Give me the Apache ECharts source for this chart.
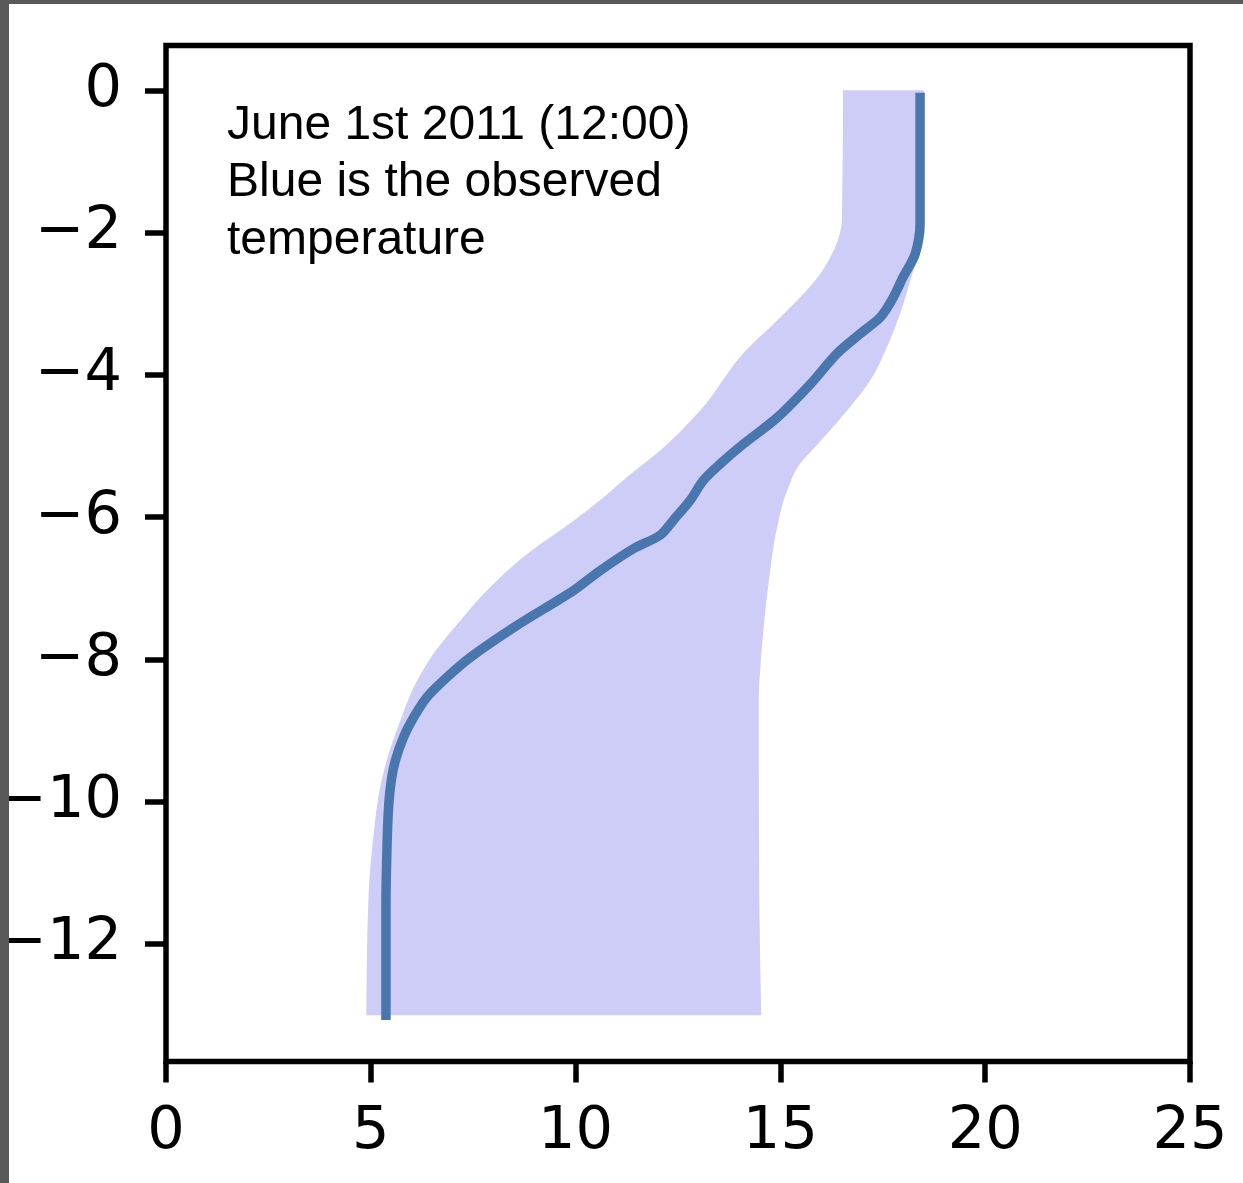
<!DOCTYPE html>
<html><head><meta charset="utf-8">
<script src="https://cdn.jsdelivr.net/npm/echarts@6/dist/echarts.min.js"></script>
<style>html,body{margin:0;padding:0;background:#fff}#c{width:1243px;height:1183px}</style>
</head><body><div id="c"></div><script>
// Observed temperature profile (depth, temperature)
const obsDepth = [-0.1, -1.27, -1.87, -2.30, -2.62, -2.95, -3.19, -3.42, -3.70, -4.13, -4.60, -4.97, -5.25, -5.48, -5.76, -6.04, -6.25, -6.44, -6.75, -7.03, -7.55, -7.97, -8.25, -8.53, -8.81, -9.09, -9.42, -9.70, -10.03, -10.54, -11.5, -13.0];
const obsTemp  = [18.41, 18.41, 18.41, 18.29, 18.0, 17.72, 17.44, 16.95, 16.38, 15.73, 14.92, 14.10, 13.53, 13.12, 12.80, 12.39, 12.07, 11.42, 10.60, 9.95, 8.49, 7.43, 6.86, 6.37, 6.05, 5.80, 5.60, 5.50, 5.44, 5.40, 5.37, 5.37];
// Envelope: lower (left) edge
const bandLoDepth = [0, -1.83, -2.25, -2.58, -3.19, -3.66, -4.5, -5.06, -5.44, -5.76, -6.05, -6.52, -7.13, -7.45, -7.92, -8.39, -8.86, -9.32, -9.79, -10.45, -11.39, -13.0];
const bandLoTemp  = [16.53, 16.5, 16.3, 15.97, 15.0, 14.15, 13.04, 12.07, 11.25, 10.6, 9.95, 8.81, 7.67, 7.19, 6.53, 6.05, 5.72, 5.44, 5.23, 5.07, 4.94, 4.89];
// Envelope: upper (right) edge
const bandHiDepth = [0, -1.73, -2.2, -2.62, -3.14, -3.61, -4.08, -4.45, -4.98, -5.25, -5.63, -6.14, -6.89, -7.5, -8.11, -8.58, -10.9, -13.0];
const bandHiTemp  = [18.5, 18.49, 18.41, 18.2, 17.92, 17.6, 17.19, 16.7, 15.9, 15.48, 15.16, 14.92, 14.72, 14.6, 14.51, 14.47, 14.48, 14.53];
const xTicks = [0, 5, 10, 15, 20, 25];
const yTicks = [0, -2, -4, -6, -8, -10, -12];
const noteLines = ['June 1st 2011 (12:00)', 'Blue is the observed', 'temperature'];

// monotone cubic (x as a function of y) sampling in pixel space for a smooth edge
function smoothEdge(pts, steps) {
  const n = pts.length;
  if (n < 3) return pts.slice();
  const h = [], s = [];
  for (let i = 0; i < n - 1; i++) {
    h.push(pts[i + 1][1] - pts[i][1]);
    s.push((pts[i + 1][0] - pts[i][0]) / h[i]);
  }
  const m = new Array(n);
  for (let i = 1; i < n - 1; i++) {
    const h0 = h[i - 1], h1 = h[i], s0 = s[i - 1], s1 = s[i];
    const p = (s0 * h1 + s1 * h0) / (h0 + h1);
    m[i] = (Math.sign(s0) + Math.sign(s1)) * Math.min(Math.abs(s0), Math.abs(s1), 0.5 * Math.abs(p)) || 0;
  }
  m[0] = (3 * s[0] - m[1]) / 2;
  m[n - 1] = (3 * s[n - 2] - m[n - 2]) / 2;
  if (Math.sign(m[0]) !== Math.sign(s[0])) m[0] = 0;
  if (Math.sign(m[n - 1]) !== Math.sign(s[n - 2])) m[n - 1] = 0;
  const out = [];
  for (let i = 0; i < n - 1; i++) {
    const x0 = pts[i][0], x1 = pts[i + 1][0], y0 = pts[i][1], hh = h[i];
    for (let k = 0; k < steps; k++) {
      const t = k / steps, t2 = t * t, t3 = t2 * t;
      const x = (2 * t3 - 3 * t2 + 1) * x0 + (t3 - 2 * t2 + t) * hh * m[i] + (-2 * t3 + 3 * t2) * x1 + (t3 - t2) * hh * m[i + 1];
      out.push([x, y0 + t * hh]);
    }
  }
  out.push(pts[n - 1]);
  return out;
}

const chart = echarts.init(document.getElementById('c'), null, {renderer: 'canvas'});
const tickFont = '"DejaVu Sans", sans-serif';
chart.setOption({
  animation: false,
  backgroundColor: '#ffffff',
  grid: {left: 166, top: 45.5, width: 1024, height: 1016, show: true, borderColor: '#000', borderWidth: 5.5,
    backgroundColor: 'transparent', containLabel: false, outerBoundsMode: 'none'},
  xAxis: {
    type: 'value', min: 0, max: 25, interval: 5,
    axisLine: {show: false, onZero: false},
    splitLine: {show: false},
    axisTick: {show: true, inside: false, length: 21, lineStyle: {color: '#000', width: 5.5}},
    axisLabel: {show: true, margin: 42, color: '#000', fontSize: 59, fontFamily: tickFont, customValues: xTicks}
  },
  yAxis: {
    type: 'value', min: -13.65, max: 0.63,
    axisLine: {show: false, onZero: false},
    splitLine: {show: false},
    axisTick: {show: true, inside: false, length: 21, lineStyle: {color: '#000', width: 5.5}, customValues: yTicks},
    axisLabel: {show: true, margin: 44, color: '#000', fontSize: 59, fontFamily: tickFont, customValues: yTicks,
      formatter: function (v) { return String(v).replace('-', '\u2212'); }}
  },
  series: [
    {
      type: 'custom', name: 'envelope', z: 1, silent: true,
      data: [[0, 0]],
      renderItem: function (params, api) {
        const lo = bandLoDepth.map((d, i) => api.coord([bandLoTemp[i], d]));
        const hi = bandHiDepth.map((d, i) => api.coord([bandHiTemp[i], d]));
        const left = smoothEdge(lo, 12);
        const right = smoothEdge(hi, 12).reverse();
        return {type: 'polygon', shape: {points: left.concat(right)}, style: {fill: '#cdcdf8', stroke: null}};
      }
    },
    {
      type: 'line', name: 'observed', z: 3, silent: true,
      data: obsDepth.map((d, i) => [obsTemp[i], d]),
      showSymbol: false, symbol: 'none', smooth: 0.3,
      lineStyle: {color: '#4a76ae', width: 9.5, cap: 'square', join: 'round'}
    }
  ],
  graphic: [
    {type: 'text', x: 227, y: 97, z: 10, style: {text: noteLines.join('\n'), fill: '#000', fontSize: 48, lineHeight: 57.5, fontFamily: '"Liberation Sans", Arial, sans-serif', textVerticalAlign: 'top', textAlign: 'left'}},
    {type: 'rect', z: 100, shape: {x: 0, y: 0, width: 1243, height: 4}, style: {fill: '#595959'}},
    {type: 'rect', z: 100, shape: {x: 0, y: 0, width: 9, height: 1183}, style: {fill: '#595959'}}
  ]
});
</script></body></html>
